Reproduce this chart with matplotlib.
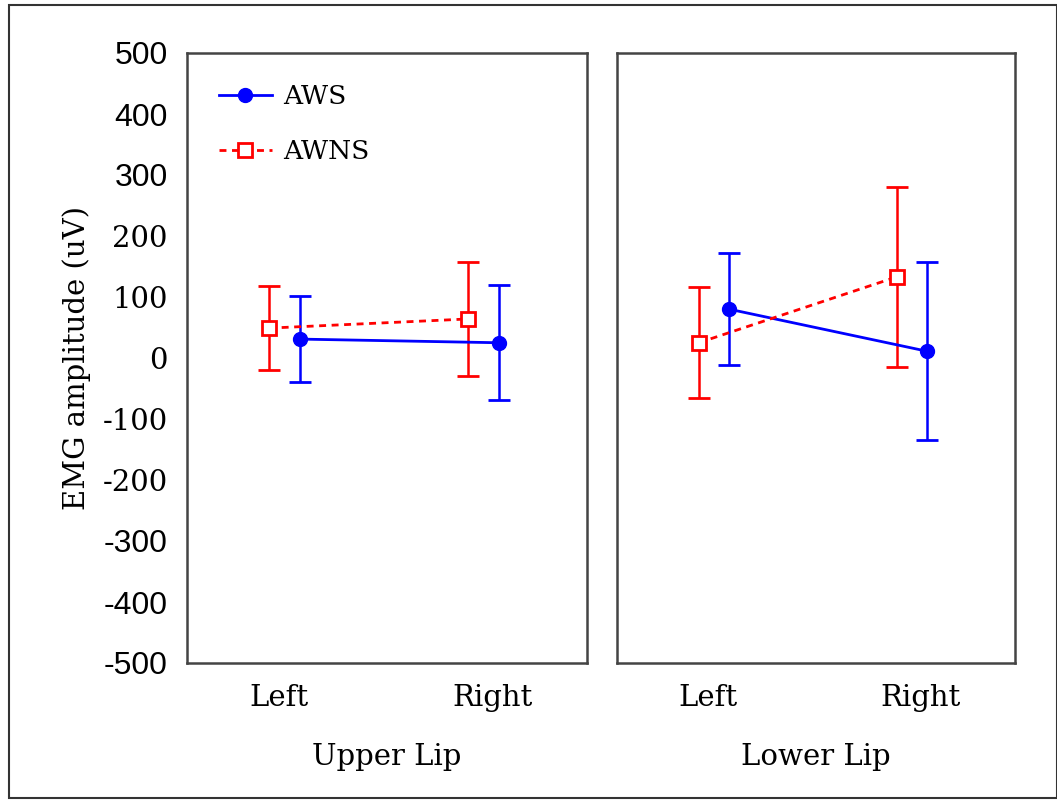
import matplotlib
matplotlib.use("Agg")
import matplotlib.pyplot as plt
from matplotlib.patches import Rectangle
from matplotlib.lines import Line2D

# ---- data ----
sides = ["Left", "Right"]
regions = ["Upper Lip", "Lower Lip"]
aws_mean = {"Upper Lip": [31, 25], "Lower Lip": [80, 11]}
aws_err = {"Upper Lip": [70, 94], "Lower Lip": [92, 146]}
awns_mean = {"Upper Lip": [49, 64], "Lower Lip": [25, 133]}
awns_err = {"Upper Lip": [69, 94], "Lower Lip": [91, 148]}
yticks = [500, 400, 300, 200, 100, 0, -100, -200, -300, -400, -500]

W, H = 1057, 801
fig = plt.figure(figsize=(W / 100, H / 100), dpi=100)

serif = "DejaVu Serif"
sans = "Liberation Sans"

# outer frame
fig.patches.append(Rectangle((9 / W, 3 / H), (W - 9.5) / W, (H - 8) / H,
                             transform=fig.transFigure, fill=False,
                             edgecolor="#333333", linewidth=1.5))

ax_specs = [(187, 587), (617, 1015)]
top_px, bot_px = 53, 663
awns_ls = (0, (2.5, 2))
for i, (reg, (x0, x1)) in enumerate(zip(regions, ax_specs)):
    ax = fig.add_axes([x0 / W, (H - bot_px) / H, (x1 - x0) / W, (bot_px - top_px) / H])
    cats = [0, 1]
    xa = [c + 0.077 for c in cats]
    xn = [c - 0.077 for c in cats]
    ax.errorbar(xa, aws_mean[reg], yerr=aws_err[reg], color="#0000ff", lw=2,
                marker="o", markersize=10, markerfacecolor="#0000ff",
                markeredgecolor="#0000ff", capsize=8, capthick=2, elinewidth=1.8,
                zorder=3)
    ax.errorbar(xn, awns_mean[reg], yerr=awns_err[reg], color="#ff0000", lw=2,
                linestyle=awns_ls, marker="s", markersize=10,
                markerfacecolor="white", markeredgecolor="#ff0000", markeredgewidth=2,
                capsize=8, capthick=2, elinewidth=1.8, zorder=3)
    ax.set_xlim(-0.49, 1.52)
    ax.set_ylim(-500, 500)
    ax.set_xticks([-0.03, 1.045])
    ax.set_xticklabels(sides, fontfamily=serif, fontsize=21)
    ax.tick_params(axis="x", length=0, pad=15)
    ax.set_yticks(yticks)
    if i == 0:
        ax.set_yticklabels([str(v) for v in yticks])
        for lab, v in zip(ax.get_yticklabels(), yticks):
            if abs(v) >= 300:
                lab.set_fontfamily(sans)
                lab.set_fontsize(23)
            else:
                lab.set_fontfamily(serif)
                lab.set_fontsize(21)
        ax.tick_params(axis="y", length=0, pad=14)
        ax.set_ylabel("EMG amplitude (uV)", fontfamily=serif, fontsize=21, labelpad=8)
        handles = [
            Line2D([], [], color="#0000ff", lw=2, marker="o", markersize=10,
                   markerfacecolor="#0000ff", markeredgecolor="#0000ff"),
            Line2D([], [], color="#ff0000", lw=2, linestyle=awns_ls, marker="s",
                   markersize=10, markerfacecolor="white", markeredgecolor="#ff0000",
                   markeredgewidth=2),
        ]
        ax.legend(handles, ["AWS", "AWNS"], loc="upper left", frameon=False,
                  prop={"family": serif, "size": 19}, handlelength=2.0,
                  handletextpad=0.45, labelspacing=1.15, bbox_to_anchor=(0.02, 0.988))
    else:
        ax.set_yticklabels([])
        ax.tick_params(axis="y", length=0)
    for s in ax.spines.values():
        s.set_color("#444444")
        s.set_linewidth(1.8)
    fig.text(((x0 + x1) / 2) / W, (H - 757) / H, reg, fontfamily=serif, fontsize=21,
             ha="center", va="center")

fig.savefig("out.png", dpi=100)
